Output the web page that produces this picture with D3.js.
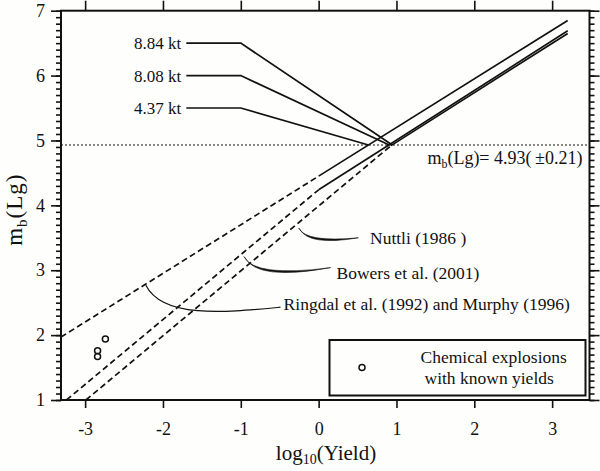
<!DOCTYPE html>
<html>
<head>
<meta charset="utf-8">
<script src="https://cdn.jsdelivr.net/npm/d3@7"></script>
<style>
  body { margin: 0; background: #fefefc; }
  svg text { font-family: "Liberation Serif", "Times New Roman", Times, serif; fill: #111; }
</style>
</head>
<body>
<div class="chart"></div>
<script>
// tick values
var xTicks = [-3, -2, -1, 0, 1, 2, 3];
var yTicks = [1, 2, 3, 4, 5, 6, 7];

// magnitude-yield relations, [log10(yield), mb(Lg)]
var ringdalDashed = [[-3.31, 1.97], [0, 4.45]];
var ringdalSolid = [[0, 4.45], [3.2, 6.85]];
var bowersDashed = [[-3.24, 1.0], [0, 4.24]];
var bowersSolid = [[0, 4.24], [3.2, 6.69]];
var nuttliDashed = [[-2.99, 1.0], [0.93, 4.92]];
var nuttliSolid = [[0.93, 4.92], [3.2, 6.65]];

// chemical explosions with known yields
var chemLogYield = [-2.74, -2.84, -2.84];
var chemMb = [1.94, 1.76, 1.67];

// estimated yields
var ktLabels = ["8.84 kt", "8.08 kt", "4.37 kt"];
var ktYields = [8.84, 8.08, 4.37];
var ktLabelMb = [6.5, 6.0, 5.5];
var mbLg = 4.93;

// reference labels: text, arrow tip, arrow tail, text anchor
var refLabels = ["Nuttli (1986 )", "Bowers et al. (2001)", "Ringdal et al. (1992) and Murphy (1996)"];
var refTips = [[-0.256, 3.65], [-0.96, 3.21], [-2.22, 2.77]];
var refTails = [[0.51, 3.50], [0.154, 3.04], [-0.49, 2.43]];
var refText = [[0.66, 3.40], [0.23, 2.86], [-0.45, 2.39]];

var svgWidth = 600;
var svgHeight = 471;
var serif = "'Liberation Serif', 'Times New Roman', Times, serif";

var margin = {
  top: 10.7,
  bottom: 71,
  right: 10.5,
  left: 61
};

var height = svgHeight - margin.top - margin.bottom;
var width = svgWidth - margin.left - margin.right;

var svg = d3.select(".chart")
  .append("svg")
  .attr("width", svgWidth)
  .attr("height", svgHeight)
  .style("font-family", serif);

var chartGroup = svg.append("g")
  .attr("transform", `translate(${margin.left}, ${margin.top})`);

// scales
var xScale = d3.scaleLinear()
  .domain([-3.31, 3.48])
  .range([0, width]);

var yScale = d3.scaleLinear()
  .domain([1, 7])
  .range([height, 0]);

// axes
var xAxis = d3.axisBottom(xScale)
  .tickValues(xTicks)
  .tickSize(8)
  .tickPadding(14)
  .tickFormat(d => d < 0 ? "-" + Math.abs(d) : String(d));

var xAxisTop = d3.axisTop(xScale)
  .tickValues(xTicks)
  .tickSize(10)
  .tickFormat("");

var yAxis = d3.axisLeft(yScale)
  .tickValues(yTicks)
  .tickSize(10)
  .tickPadding(6)
  .tickFormat(d3.format("d"));

var minorTicks = d3.range(10, 71).map(d => d / 10);

var yMinor = d3.axisLeft(yScale).tickValues(minorTicks).tickSize(5).tickFormat("");
var yRight = d3.axisRight(yScale).tickValues(yTicks).tickSize(10).tickFormat("");
var yRightMinor = d3.axisRight(yScale).tickValues(minorTicks).tickSize(5).tickFormat("");

function styleAxis(g) {
  g.attr("font-family", null).attr("font-size", null);
  g.select(".domain").remove();
  g.selectAll(".tick line").attr("stroke", "#111").attr("stroke-width", 1.6);
  g.selectAll(".tick text")
    .style("font-family", serif)
    .style("font-size", "18px")
    .attr("fill", "#111");
}

chartGroup.append("g").attr("transform", `translate(0, ${height})`).call(xAxis).call(styleAxis);
chartGroup.append("g").call(xAxisTop).call(styleAxis);
chartGroup.append("g").call(yMinor).call(styleAxis);
chartGroup.append("g").call(yAxis).call(styleAxis);
chartGroup.append("g").attr("transform", `translate(${width}, 0)`).call(yRightMinor).call(styleAxis);
chartGroup.append("g").attr("transform", `translate(${width}, 0)`).call(yRight).call(styleAxis);

// clip for the lines
chartGroup.append("clipPath")
  .attr("id", "plotClip")
  .append("rect")
  .attr("width", width)
  .attr("height", height);

var plot = chartGroup.append("g").attr("clip-path", "url(#plotClip)");

// mb(Lg) dotted line
plot.append("line")
  .attr("x1", 0)
  .attr("x2", width)
  .attr("y1", yScale(mbLg))
  .attr("y2", yScale(mbLg))
  .attr("stroke", "#111")
  .attr("stroke-width", 1)
  .attr("stroke-dasharray", "2,2");

// line generator
var line = d3.line()
  .x(d => xScale(d[0]))
  .y(d => yScale(d[1]));

[ringdalDashed, bowersDashed, nuttliDashed].forEach(function(seg) {
  plot.append("path")
    .datum(seg)
    .attr("d", line)
    .attr("fill", "none")
    .attr("stroke", "#111")
    .attr("stroke-width", 1.7)
    .attr("stroke-dasharray", "6,3.5");
});

[ringdalSolid, bowersSolid, nuttliSolid].forEach(function(seg) {
  plot.append("path")
    .datum(seg)
    .attr("d", line)
    .attr("fill", "none")
    .attr("stroke", "#111")
    .attr("stroke-width", 1.7);
});

// yield leader lines
var labelX0 = -1.7;
var labelX1 = -1;
ktLabels.forEach(function(lbl, i) {
  var pts = [[labelX0, ktLabelMb[i]], [labelX1, ktLabelMb[i]], [Math.log10(ktYields[i]), mbLg]];
  chartGroup.append("path")
    .datum(pts)
    .attr("d", line)
    .attr("fill", "none")
    .attr("stroke", "#111")
    .attr("stroke-width", 1.7);

  chartGroup.append("text")
    .attr("x", xScale(labelX0) - 5)
    .attr("y", yScale(ktLabelMb[i]))
    .attr("dy", "0.35em")
    .attr("text-anchor", "end")
    .style("font-size", "17px")
    .text(lbl);
});

// chemical explosions
chartGroup.selectAll(".chem")
  .data(chemLogYield)
  .enter()
  .append("circle")
  .attr("class", "chem")
  .attr("cx", d => xScale(d))
  .attr("cy", (d, i) => yScale(chemMb[i]))
  .attr("r", 3)
  .attr("fill", "none")
  .attr("stroke", "#111")
  .attr("stroke-width", 1.5);

// mb(Lg) value text
var mbText = chartGroup.append("text")
  .attr("x", width - 7)
  .attr("y", yScale(mbLg) + 19)
  .attr("text-anchor", "end")
  .style("font-size", "18px");
mbText.append("tspan").text("m");
mbText.append("tspan").attr("dy", 4).style("font-size", "12px").text("b");
mbText.append("tspan").attr("dy", -4).text("(Lg)= 4.93(\u2009\u00b10.21)");

// swoosh arrows for the reference labels
function swoosh(t, e, k) {
  var cx = t[0] + 0.12 * (e[0] - t[0]);
  var p = d3.path();
  p.moveTo(t[0], t[1]);
  p.quadraticCurveTo(cx, e[1] + k, e[0], e[1]);
  p.quadraticCurveTo(cx + 3, e[1] + k + 3.5, t[0] + 1, t[1] + 1);
  p.closePath();
  return p.toString();
}

var swooshDepth = [5, 10];
[0, 1].forEach(function(i) {
  var t = [xScale(refTips[i][0]), yScale(refTips[i][1])];
  var e = [xScale(refTails[i][0]), yScale(refTails[i][1])];
  chartGroup.append("path")
    .attr("d", swoosh(t, e, swooshDepth[i]))
    .attr("fill", "#111")
    .attr("stroke", "#111")
    .attr("stroke-width", 0.6);
});

// thin curved leader for Ringdal / Murphy
var rt = refTips[2], re = refTails[2];
var rp = d3.path();
rp.moveTo(xScale(rt[0]), yScale(rt[1]));
rp.bezierCurveTo(xScale(-2.0), yScale(2.25), xScale(-1.2), yScale(2.35), xScale(re[0]), yScale(re[1]));
chartGroup.append("path")
  .attr("d", rp.toString())
  .attr("fill", "none")
  .attr("stroke", "#111")
  .attr("stroke-width", 1.2);

refLabels.forEach(function(lbl, i) {
  chartGroup.append("text")
    .attr("x", xScale(refText[i][0]))
    .attr("y", yScale(refText[i][1]))
    .style("font-size", "17.5px")
    .text(lbl);
});

// frame
chartGroup.append("rect")
  .attr("width", width)
  .attr("height", height)
  .attr("fill", "none")
  .attr("stroke", "#111")
  .attr("stroke-width", 2);

// legend
var legend = chartGroup.append("g")
  .attr("transform", `translate(${width - 260}, ${height - 60})`);

legend.append("rect")
  .attr("width", 256)
  .attr("height", 55.5)
  .attr("fill", "#fefefc")
  .attr("stroke", "#111")
  .attr("stroke-width", 2);

legend.append("circle")
  .attr("cx", 32.5)
  .attr("cy", 27.5)
  .attr("r", 3)
  .attr("fill", "none")
  .attr("stroke", "#111")
  .attr("stroke-width", 1.5);

legend.append("text")
  .attr("x", 91)
  .attr("y", 23)
  .style("font-size", "17.5px")
  .text("Chemical explosions");

legend.append("text")
  .attr("x", 95)
  .attr("y", 43.5)
  .style("font-size", "17.5px")
  .text("with known yields");

// axis labels
var yLabel = chartGroup.append("text")
  .attr("transform", "rotate(-90)")
  .attr("x", 0 - 199)
  .attr("y", 0 - margin.left + 22)
  .attr("text-anchor", "middle")
  .style("font-size", "23px")
  .style("letter-spacing", "1px");
yLabel.append("tspan").text("m");
yLabel.append("tspan").attr("dy", 5).style("font-size", "15px").text("b");
yLabel.append("tspan").attr("dy", -5).text("(Lg)");

var xLabel = chartGroup.append("text")
  .attr("x", 326 - margin.left)
  .attr("y", 460 - margin.top)
  .attr("text-anchor", "middle")
  .style("font-size", "21px");
xLabel.append("tspan").text("log");
xLabel.append("tspan").attr("dy", 4).style("font-size", "14px").text("10");
xLabel.append("tspan").attr("dy", -4).text("(Yield)");
</script>
</body>
</html>
